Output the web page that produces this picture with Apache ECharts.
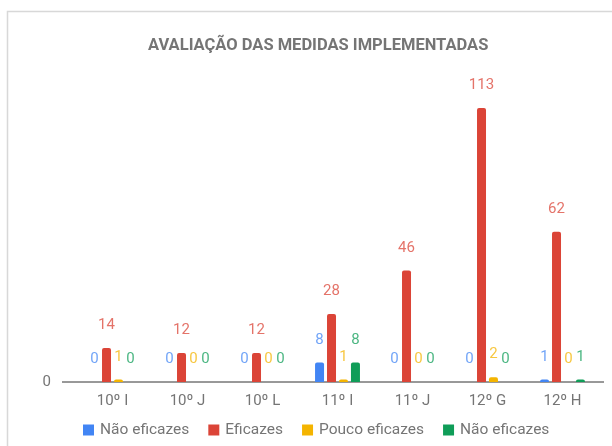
<!DOCTYPE html>
<html>
<head>
<meta charset="utf-8">
<script src="https://cdn.jsdelivr.net/npm/echarts@6/dist/echarts.min.js"></script>
<style>
  html, body { margin: 0; padding: 0; background: #fff; }
  #chart { width: 612px; height: 446px; }
</style>
</head>
<body>
<div id="chart"></div>
<script>
// Turmas avaliadas
const categories = ['10º I', '10º J', '10º L', '11º I', '11º J', '12º G', '12º H'];

// Respostas por turma
const naoEficazesA = [0, 0, 0, 8, 0, 0, 1];
const eficazes     = [14, 12, 12, 28, 46, 113, 62];
const poucoEficazes = [1, 0, 0, 1, 0, 2, 0];
const naoEficazesB = [0, 0, 0, 8, 0, 0, 1];

const yTicks = [0];

const seriesDefs = [
  { name: 'Não eficazes', data: naoEficazesA, color: '#4285F4' },
  { name: 'Eficazes', data: eficazes, color: '#DB4437' },
  { name: 'Pouco eficazes', data: poucoEficazes, color: '#F4B400' },
  { name: 'Não eficazes ', data: naoEficazesB, color: '#0F9D58' }
];

const chart = echarts.init(document.getElementById('chart'), null, { renderer: 'canvas' });

const textFont = 'Roboto, "Noto Sans", sans-serif';

chart.setOption({
  animation: false,
  textStyle: { fontFamily: textFont },
  title: {
    text: 'AVALIAÇÃO DAS MEDIDAS IMPLEMENTADAS',
    left: 143,
    top: 32,
    textStyle: { fontFamily: textFont, fontSize: 16.5, fontWeight: 'bold', color: '#757575' }
  },
  legend: {
    left: 78,
    top: 417,
    itemWidth: 11,
    itemHeight: 11,
    itemGap: 19,
    icon: 'rect',
    formatter: name => name.trim(),
    textStyle: { fontFamily: textFont, fontSize: 15.5, color: '#757575', padding: [0, 0, 0, 1] },
    data: seriesDefs.map(s => s.name)
  },
  grid: { left: 75, right: 12, top: 91, bottom: 64, containLabel: false },
  xAxis: {
    type: 'category',
    data: categories,
    axisLine: { show: false },
    axisTick: { show: false },
    axisLabel: { color: '#757575', fontSize: 15, margin: 12, fontFamily: textFont }
  },
  yAxis: {
    type: 'value',
    min: 0,
    max: 120,
    interval: 120,
    axisLine: { show: false },
    axisTick: { show: false },
    splitLine: { show: false },
    axisLabel: {
      color: '#757575',
      fontSize: 15,
      margin: 24,
      formatter: v => (yTicks.indexOf(v) >= 0 ? String(v) : '')
    }
  },
  series: seriesDefs.map(s => ({
    name: s.name,
    type: 'bar',
    data: s.data,
    barWidth: 9,
    barGap: '33%',
    itemStyle: { color: s.color, borderRadius: [2, 2, 0, 0] },
    label: {
      show: true,
      position: 'top',
      distance: 15,
      fontSize: 15,
      fontFamily: textFont,
      color: s.color,
      opacity: 0.75
    }
  }))
});

// Baseline and frame, placed from the chart's own scale
const zeroY = chart.convertToPixel({ yAxisIndex: 0 }, 0);
chart.setOption({
  graphic: [
    {
      type: 'line',
      shape: { x1: 62, y1: zeroY, x2: 604, y2: zeroY },
      style: { stroke: '#333', lineWidth: 1 },
      z: 0
    },
    {
      type: 'polyline',
      shape: { points: [[7.5, 446], [7.5, 11.5], [612, 11.5]] },
      style: { stroke: '#d8d8d8', lineWidth: 1.5, fill: null }
    }
  ]
});
</script>
</body>
</html>
